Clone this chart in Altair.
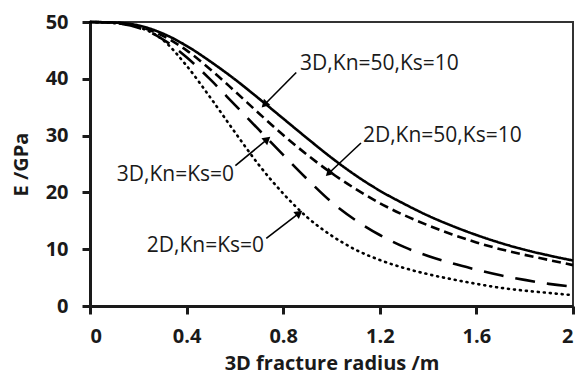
import math
import altair as alt
import pandas as pd

# ---- data ----
x_vals = [0, 0.1, 0.2, 0.3, 0.4, 0.5, 0.6, 0.7, 0.8, 0.9, 1.0, 1.1, 1.2, 1.3, 1.4, 1.5, 1.6, 1.7, 1.8, 1.9, 2.0]
e_3d_k = [50, 49.9, 49.4, 48.0, 45.8, 43.0, 39.9, 36.5, 33.0, 29.5, 26.1, 23.0, 20.3, 18.0, 15.9, 14.1, 12.5, 11.1, 9.9, 8.9, 8.0]
e_2d_k = [50, 49.9, 49.2, 47.6, 45.0, 41.6, 37.8, 33.9, 30.1, 26.6, 23.4, 20.6, 18.1, 16.0, 14.2, 12.6, 11.2, 10.0, 9.0, 8.1, 7.2]
e_3d_0 = [50, 49.8, 49.0, 47.0, 43.8, 39.8, 35.4, 31.0, 26.6, 22.3, 18.3, 15.1, 12.5, 10.4, 8.8, 7.5, 6.4, 5.4, 4.6, 3.9, 3.4]
e_2d_0 = [50, 49.8, 49.1, 46.9, 42.3, 36.6, 30.6, 24.8, 19.8, 15.6, 12.4, 9.9, 8.1, 6.7, 5.6, 4.7, 3.9, 3.2, 2.7, 2.3, 1.9]

series_names = ["3D,Kn=50,Ks=10", "2D,Kn=50,Ks=10", "3D,Kn=Ks=0", "2D,Kn=Ks=0"]
series_vals = [e_3d_k, e_2d_k, e_3d_0, e_2d_0]
series_dash = [[1, 0], [9, 5], [20, 12], [1, 5]]

# annotations (data units): label, text x, text y, arrow start x, y, arrow tip x, y
ann_labels = ["3D,Kn=50,Ks=10", "2D,Kn=50,Ks=10", "3D,Kn=Ks=0", "2D,Kn=Ks=0"]
ann_tx = [0.870, 1.130, 0.111, 0.235]
ann_ty = [42.6, 29.9, 23.0, 10.5]
ann_x0 = [0.854, 1.122, 0.602, 0.730]
ann_y0 = [41.1, 28.7, 24.7, 11.9]
ann_x1 = [0.726, 0.992, 0.730, 0.862]
ann_y1 = [35.6, 23.5, 29.2, 16.2]

x_ticks = [0, 0.4, 0.8, 1.2, 1.6, 2]
y_ticks = [0, 10, 20, 30, 40, 50]

W, H = 483, 284
FONT = "Open Sans"
INK = "#1a1a1a"

xs = alt.Scale(domain=[0, 2], nice=False)
ys = alt.Scale(domain=[0, 50], nice=False)

x_axis = alt.Axis(values=x_ticks, format=".1~f", title="3D fracture radius /m", grid=False,
                  labelFont=FONT, labelFontWeight="bold", labelFontSize=20, labelColor=INK,
                  labelPadding=12, tickSize=8, tickWidth=3, tickColor=INK,
                  domainColor=INK, domainWidth=3,
                  titleFont=FONT, titleFontWeight="bold", titleFontSize=20, titleColor=INK,
                  titlePadding=7)
y_axis = alt.Axis(values=y_ticks, title="E /GPa", grid=False,
                  labelFont=FONT, labelFontWeight="bold", labelFontSize=20, labelColor=INK,
                  labelPadding=14, tickSize=8, tickWidth=3, tickColor=INK,
                  domainColor=INK, domainWidth=3,
                  titleFont=FONT, titleFontWeight="bold", titleFontSize=20, titleColor=INK,
                  titlePadding=14)

layers = []
for i, (name, vals, dash) in enumerate(zip(series_names, series_vals, series_dash)):
    df = pd.DataFrame({"x": x_vals, "E": vals, "series": name})
    layers.append(
        alt.Chart(df).mark_line(color="black", strokeWidth=2.6, strokeDash=dash,
                                strokeCap="round" if i == 3 else "butt",
                                interpolate="monotone").encode(
            x=alt.X("x:Q", scale=xs, axis=x_axis),
            y=alt.Y("E:Q", scale=ys, axis=y_axis),
        )
    )

# arrow head angles in screen space
angles = []
for x0, y0, x1, y1 in zip(ann_x0, ann_y0, ann_x1, ann_y1):
    dx = (x1 - x0) * W / 2
    dy = -(y1 - y0) * H / 50
    angles.append(math.degrees(math.atan2(dx, -dy)) % 360)

ann = pd.DataFrame({"label": ann_labels, "tx": ann_tx, "ty": ann_ty,
                    "x0": ann_x0, "y0": ann_y0, "x1": ann_x1, "y1": ann_y1, "ang": angles})

rules = alt.Chart(ann).mark_rule(color="black", strokeWidth=1.6).encode(
    x=alt.X("x0:Q", scale=xs, axis=x_axis), y=alt.Y("y0:Q", scale=ys, axis=y_axis),
    x2="x1:Q", y2="y1:Q")
heads = alt.Chart(ann).mark_point(shape="triangle", filled=True, color="black", size=80, opacity=1).encode(
    x=alt.X("x1:Q", scale=xs, axis=x_axis), y=alt.Y("y1:Q", scale=ys, axis=y_axis),
    angle=alt.Angle("ang:Q", scale=None))
texts = alt.Chart(ann).mark_text(align="left", baseline="middle", font=FONT, fontSize=21,
                                 color=INK).encode(
    x=alt.X("tx:Q", scale=xs, axis=x_axis), y=alt.Y("ty:Q", scale=ys, axis=y_axis), text="label:N")

chart = alt.layer(*layers, rules, heads, texts).properties(
    width=W, height=H,
    autosize=alt.AutoSizeParams(type="none"),
    padding={"left": 82, "top": 14, "right": 2, "bottom": 72},
).configure_view(stroke="#333333", strokeWidth=2)

chart.save("out.html", embed_options={"renderer": "svg", "actions": False})
